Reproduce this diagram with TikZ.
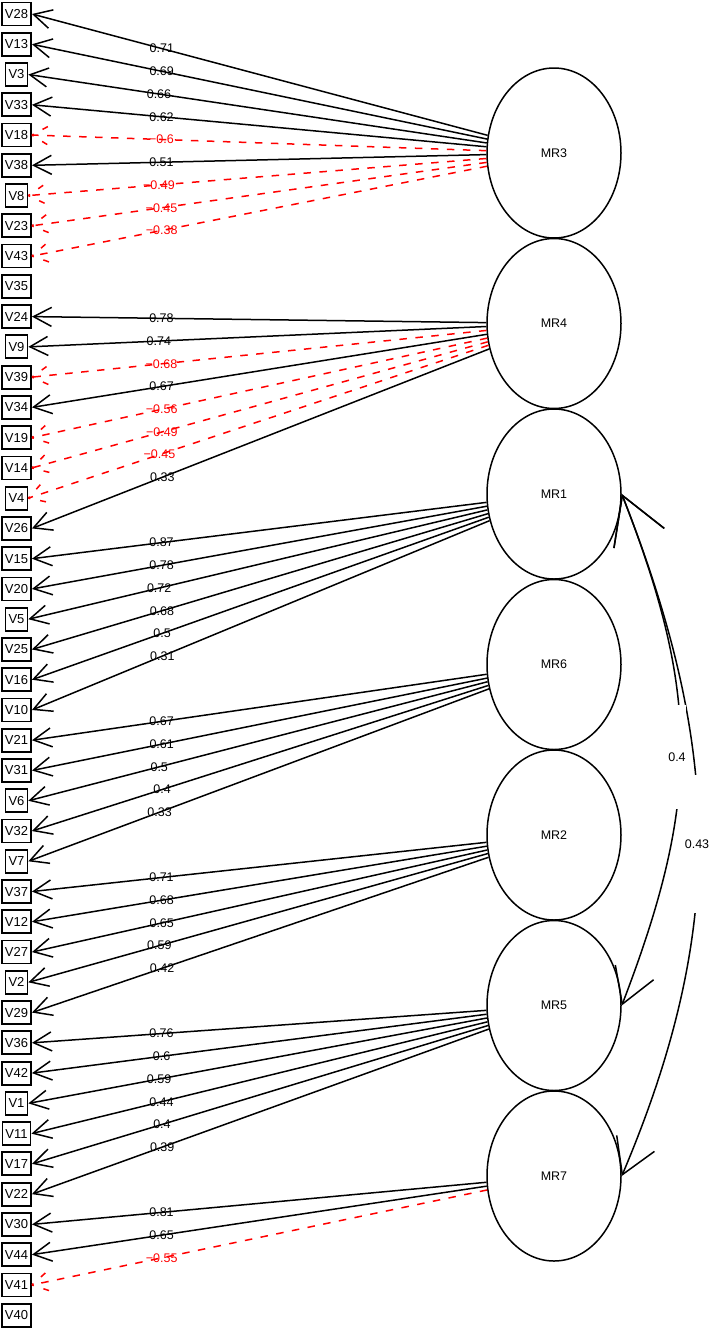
\documentclass[tikz,border=0pt]{standalone}
\usepackage{fontspec}
\setmainfont{Liberation Sans}
\usetikzlibrary{shapes.geometric,arrows.meta,calc}
\tikzset{
  obs/.style={draw, line width=1.8pt, minimum height=23pt, inner xsep=3pt, inner ysep=0pt, font=\fontsize{13}{13}\selectfont},
  lat/.style={draw, ellipse, line width=1.5pt, minimum width=134pt, minimum height=170pt, inner sep=0pt, font=\fontsize{12.5}{12.5}\selectfont},
  loadpos/.style={line width=1.5pt, -{Straight Barb[length=18pt,width=19pt]}},
  loadneg/.style={red, line width=1.5pt, dash pattern=on 7.5pt off 8.5pt},
  barb/.style={red, line width=1.5pt, dash pattern=on 6pt off 10pt},
  loadlab/.style={font=\fontsize{12.5}{12.5}\selectfont, inner sep=0pt, pos=0.715},
  corr/.style={line width=1.5pt, {Straight Barb[length=46pt,width=54pt]}-{Straight Barb[length=34pt,width=41pt]}},
  corrlab/.style={fill=white, inner xsep=0.5pt, inner ysep=0pt, font=\fontsize{12.5}{12.5}\selectfont}
}
\newcommand{\posload}[3]{\draw[loadpos] (#1) -- node[loadlab]{#3} (#2.east);}
\newcommand{\negload}[3]{%
  \draw[loadneg] (#1) -- node[loadlab, text=red]{#3} (#2.east);
  \draw[barb] ($(#2.east)!18pt!30:(#1)$) -- (#2.east);
  \draw[barb] ($(#2.east)!18pt!-30:(#1)$) -- (#2.east);}
\begin{document}
\begin{tikzpicture}[x=1pt, y=-1pt]
\useasboundingbox (0,0) rectangle (709,1331);
\foreach \n [count=\i from 0] in {V28,V13,V3,V33,V18,V38,V8,V23,V43,V35,V24,V9,V39,V34,V19,V14,V4,V26,V15,V20,V5,V25,V16,V10,V21,V31,V6,V32,V7,V37,V12,V27,V2,V29,V36,V42,V1,V11,V17,V22,V30,V44,V41,V40}
  \node[obs] (\n) at (16.5,{14+30.26*\i}) {\n};
\foreach \n [count=\i from 0] in {MR3,MR4,MR1,MR6,MR2,MR5,MR7}
  \node[lat] (\n) at (554,{153+170.5*\i}) {\n};
% MR3
\posload{MR3}{V28}{0.71}
\posload{MR3}{V13}{0.69}
\posload{MR3}{V3}{0.66}
\posload{MR3}{V33}{0.62}
\negload{MR3}{V18}{−0.6}
\posload{MR3}{V38}{0.51}
\negload{MR3}{V8}{−0.49}
\negload{MR3}{V23}{−0.45}
\negload{MR3}{V43}{−0.38}
% MR4
\posload{MR4}{V24}{0.78}
\posload{MR4}{V9}{0.74}
\negload{MR4}{V39}{−0.68}
\posload{MR4}{V34}{0.67}
\negload{MR4}{V19}{−0.56}
\negload{MR4}{V14}{−0.49}
\negload{MR4}{V4}{−0.45}
\posload{MR4}{V26}{0.33}
% MR1
\posload{MR1}{V15}{0.87}
\posload{MR1}{V20}{0.78}
\posload{MR1}{V5}{0.72}
\posload{MR1}{V25}{0.68}
\posload{MR1}{V16}{0.5}
\posload{MR1}{V10}{0.31}
% MR6
\posload{MR6}{V21}{0.67}
\posload{MR6}{V31}{0.61}
\posload{MR6}{V6}{0.5}
\posload{MR6}{V32}{0.4}
\posload{MR6}{V7}{0.33}
% MR2
\posload{MR2}{V37}{0.71}
\posload{MR2}{V12}{0.68}
\posload{MR2}{V27}{0.65}
\posload{MR2}{V2}{0.59}
\posload{MR2}{V29}{0.42}
% MR5
\posload{MR5}{V36}{0.76}
\posload{MR5}{V42}{0.6}
\posload{MR5}{V1}{0.59}
\posload{MR5}{V11}{0.44}
\posload{MR5}{V17}{0.4}
\posload{MR5}{V22}{0.39}
% MR7
\posload{MR7}{V30}{0.81}
\posload{MR7}{V44}{0.65}
\negload{MR7}{V41}{−0.55}
% correlations
\draw[corr] (MR1.east) .. controls +(79,202) and +(78,-203) .. (MR5.east);
\draw[corr] (MR1.east) .. controls +(99,252) and +(106,-250) .. (MR7.east);
\node[corrlab, minimum height=104pt] (c15) at (677,757) {0.4};
\node[corrlab, minimum height=138pt] (c17) at (697,844) {0.43};
\end{tikzpicture}
\end{document}
